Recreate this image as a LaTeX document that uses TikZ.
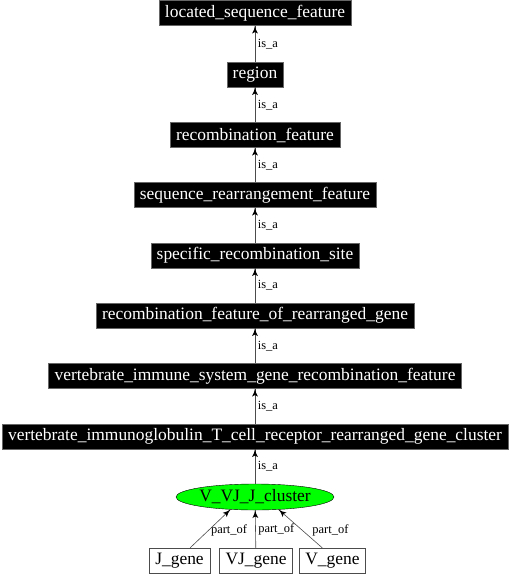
\documentclass[tikz,border=0pt]{standalone}
\usepackage{fontspec}
\setmainfont{Liberation Serif}
\usetikzlibrary{arrows}
\usetikzlibrary{decorations.markings}
\usetikzlibrary{shapes.geometric}
\tikzset{->/.style = {decoration={markings,
                                  mark=at position 1 with {\arrow[scale=1.7, black]{latex'}}},
                      postaction={decorate}}}
\tikzset{term/.style = {fill=black, draw=black!60, text=white, inner xsep=6bp, inner ysep=0,
                        minimum height=25bp, font=\fontsize{17.5}{18}\selectfont}}
\tikzset{gene/.style = {fill=white, draw=black!70, inner xsep=6bp, inner ysep=0,
                        minimum height=25bp, font=\fontsize{17.5}{18}\selectfont}}
\tikzset{cluster/.style = {ellipse, fill=green, draw=black, inner sep=0,
                           minimum width=158bp, minimum height=26bp, font=\fontsize{17.5}{18}\selectfont}}
\tikzset{rel/.style = {font=\fontsize{12.5}{13}\selectfont, inner sep=2.5bp}}
\tikzset{link/.style = {draw=black!70, line width=0.6bp}}

\begin{document}
\begin{tikzpicture}[x=1bp, y=-1bp]
    \useasboundingbox (0, 0) rectangle (510, 576);

    \node [term] (lsf) at (255, 13) {located\_sequence\_feature};
    \node [term] (region) at (255, 74.5) {region};
    \node [term] (recomb) at (255, 135) {recombination\_feature};
    \node [term] (seqrearr) at (255, 195) {sequence\_rearrangement\_feature};
    \node [term] (site) at (255, 255.5) {specific\_recombination\_site};
    \node [term] (rearrgene) at (255, 315.5) {recombination\_feature\_of\_rearranged\_gene};
    \node [term] (immune) at (255, 376) {vertebrate\_immune\_system\_gene\_recombination\_feature};
    \node [term] (igtcr) at (255, 436.5) {vertebrate\_immunoglobulin\_T\_cell\_receptor\_rearranged\_gene\_cluster};
    \node [cluster] (vvjj) at (255, 497) {V\_VJ\_J\_cluster};

    \node [gene] (jgene) at (179.5, 560.5) {J\_gene};
    \node [gene] (vjgene) at (256, 560.5) {VJ\_gene};
    \node [gene] (vgene) at (332.5, 560.5) {V\_gene};

    \draw [link, ->] (region) -- (lsf) node [rel, pos=0.5, right] {is\_a};
    \draw [link, ->] (recomb) -- (region) node [rel, pos=0.5, right] {is\_a};
    \draw [link, ->] (seqrearr) -- (recomb) node [rel, pos=0.5, right] {is\_a};
    \draw [link, ->] (site) -- (seqrearr) node [rel, pos=0.5, right] {is\_a};
    \draw [link, ->] (rearrgene) -- (site) node [rel, pos=0.5, right] {is\_a};
    \draw [link, ->] (immune) -- (rearrgene) node [rel, pos=0.5, right] {is\_a};
    \draw [link, ->] (igtcr) -- (immune) node [rel, pos=0.5, right] {is\_a};
    \draw [link, ->] (vvjj) -- (igtcr) node [rel, pos=0.5, right] {is\_a};

    \draw [link, ->] (jgene.50) -- (vvjj.-153) node [rel, pos=0.45, right] {part\_of};
    \draw [link, ->] (vjgene) -- (vvjj) node [rel, pos=0.5, right] {part\_of};
    \draw [link, ->] (vgene.129) -- (vvjj.-28) node [rel, pos=0.45, right, xshift=7bp] {part\_of};
  \end{tikzpicture}
\end{document}
